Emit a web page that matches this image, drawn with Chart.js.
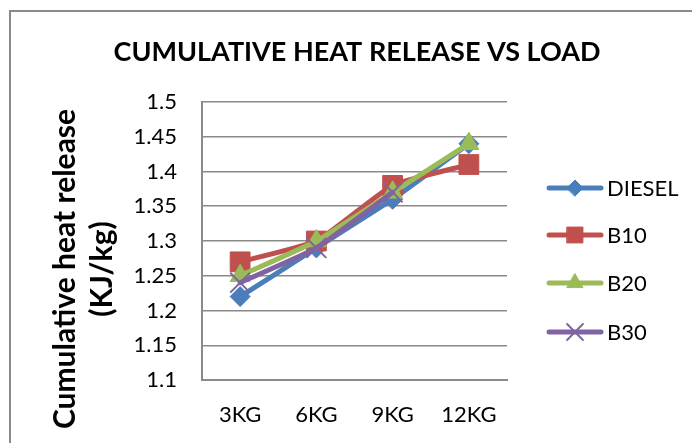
<!DOCTYPE html>
<html>
<head>
<meta charset="utf-8">
<script src="https://cdn.jsdelivr.net/npm/chart.js@4.4.0/dist/chart.umd.min.js"></script>
<style>
  body { margin: 0; background: #fff; }
  #wrap { width: 692px; height: 443px; }
</style>
</head>
<body>
<div id="wrap"><canvas id="myChart" width="692" height="443"></canvas></div>
<script>
// values
const loads = ['3KG', '6KG', '9KG', '12KG'];
const diesel = [1.22, 1.29, 1.36, 1.44];
const b10 = [1.27, 1.30, 1.38, 1.41];
const b20 = [1.25, 1.30, 1.37, 1.44];
const b30 = [1.24, 1.29, 1.37, null];
const yTicks = [1.1, 1.15, 1.2, 1.25, 1.3, 1.35, 1.4, 1.45, 1.5];
const yTitle = ['Cumulative heat release', '(KJ/kg)'];

const FONT = 'Lato, Carlito, "Open Sans", sans-serif';

function series(label, data, color, style, radius, order) {
    return {
        label: label,
        data: data,
        borderColor: color,
        backgroundColor: color,
        borderWidth: 5,
        borderJoinStyle: 'round',
        borderCapStyle: 'round',
        tension: 0.15,
        pointStyle: style,
        pointRadius: radius,
        pointHoverRadius: radius,
        pointBackgroundColor: color,
        pointBorderColor: color,
        pointBorderWidth: style === 'crossRot' ? 2 : 1,
        order: order
    };
}

const datasets = [
    series('DIESEL', diesel, '#4a7ebb', 'rectRot', 10, 4),
    series('B10', b10, '#c0504d', 'rect', 14, 3),
    series('B20', b20, '#9bbb59', 'triangle', 11.5, 2),
    series('B30', b30, '#8064a2', 'crossRot', 14, 1)
];

// frame, axis title and legend drawn on the canvas
const frame = {
    id: 'frame',
    beforeDraw(chart) {
        const ctx = chart.ctx;
        ctx.save();
        ctx.fillStyle = '#fff';
        ctx.fillRect(0, 0, chart.width, chart.height);
        ctx.strokeStyle = '#8a8a8a';
        ctx.lineWidth = 2;
        ctx.strokeRect(10, 11, chart.width + 20, chart.height + 20);
        ctx.restore();
    },
    afterDraw(chart) {
        const ctx = chart.ctx;
        ctx.save();
        // y axis title
        ctx.fillStyle = '#000';
        ctx.font = 'bold 30px ' + FONT;
        ctx.textAlign = 'center';
        ctx.textBaseline = 'alphabetic';
        ctx.translate(75, 269);
        ctx.rotate(-Math.PI / 2);
        ctx.fillText(yTitle[0], 0, 0);
        ctx.fillText(yTitle[1], 0, 37);
        ctx.restore();

        const legendY = [188, 235, 283, 332];
        ctx.save();
        datasets.forEach(function(ds, i) {
            const y = legendY[i];
            ctx.strokeStyle = ds.borderColor;
            ctx.lineWidth = 5;
            ctx.lineCap = 'round';
            ctx.beginPath();
            ctx.moveTo(549, y);
            ctx.lineTo(601, y);
            ctx.stroke();
            ctx.fillStyle = ds.pointBackgroundColor;
            ctx.strokeStyle = ds.pointBorderColor;
            ctx.lineWidth = ds.pointBorderWidth;
            Chart.helpers.drawPoint(ctx, {
                pointStyle: ds.pointStyle,
                radius: ds.pointRadius * 0.8,
                borderWidth: ds.pointBorderWidth,
                rotation: 0
            }, 575, y);
            ctx.fillStyle = '#000';
            ctx.font = '22px ' + FONT;
            ctx.textBaseline = 'middle';
            ctx.textAlign = 'left';
            ctx.fillText(ds.label, 607, y + 1);
        });
        ctx.restore();
    }
};

new Chart(document.getElementById('myChart'), {
    type: 'line',
    data: { labels: loads, datasets: datasets },
    plugins: [frame],
    options: {
        responsive: false,
        animation: false,
        layout: { padding: { left: 22, right: 0, top: 0, bottom: 0 } },
        plugins: {
            legend: { display: false },
            tooltip: { enabled: false },
            title: {
                display: true,
                text: 'CUMULATIVE HEAT RELEASE VS LOAD',
                color: '#000',
                font: { family: FONT, size: 27, weight: 'bold' },
                padding: { top: 36, bottom: 33.6 }
            }
        },
        scales: {
            x: {
                offset: true,
                grid: { display: false, drawTicks: false },
                border: { display: true, color: '#8a8a8a', width: 2 },
                ticks: { color: '#000', font: { family: FONT, size: 22 }, padding: 22 },
                afterFit(scale) { scale.height = 63; }
            },
            y: {
                min: 1.1,
                max: 1.5,
                afterBuildTicks(scale) { scale.ticks = yTicks.map(v => ({ value: v })); },
                grid: { color: '#8a8a8a', lineWidth: 1.5, drawTicks: false },
                border: { display: true, color: '#8a8a8a', width: 2 },
                ticks: {
                    color: '#000',
                    font: { family: FONT, size: 22 },
                    padding: 25,
                    callback: v => String(+v.toFixed(2))
                },
                afterFit(scale) { scale.width = 180; }
            },
            // empty space on the right for the legend
            legendSpace: {
                type: 'linear',
                position: 'right',
                grid: { display: false, drawTicks: false },
                border: { display: false },
                ticks: { display: false },
                afterFit(scale) { scale.width = 185; }
            }
        }
    }
});
</script>
</body>
</html>
